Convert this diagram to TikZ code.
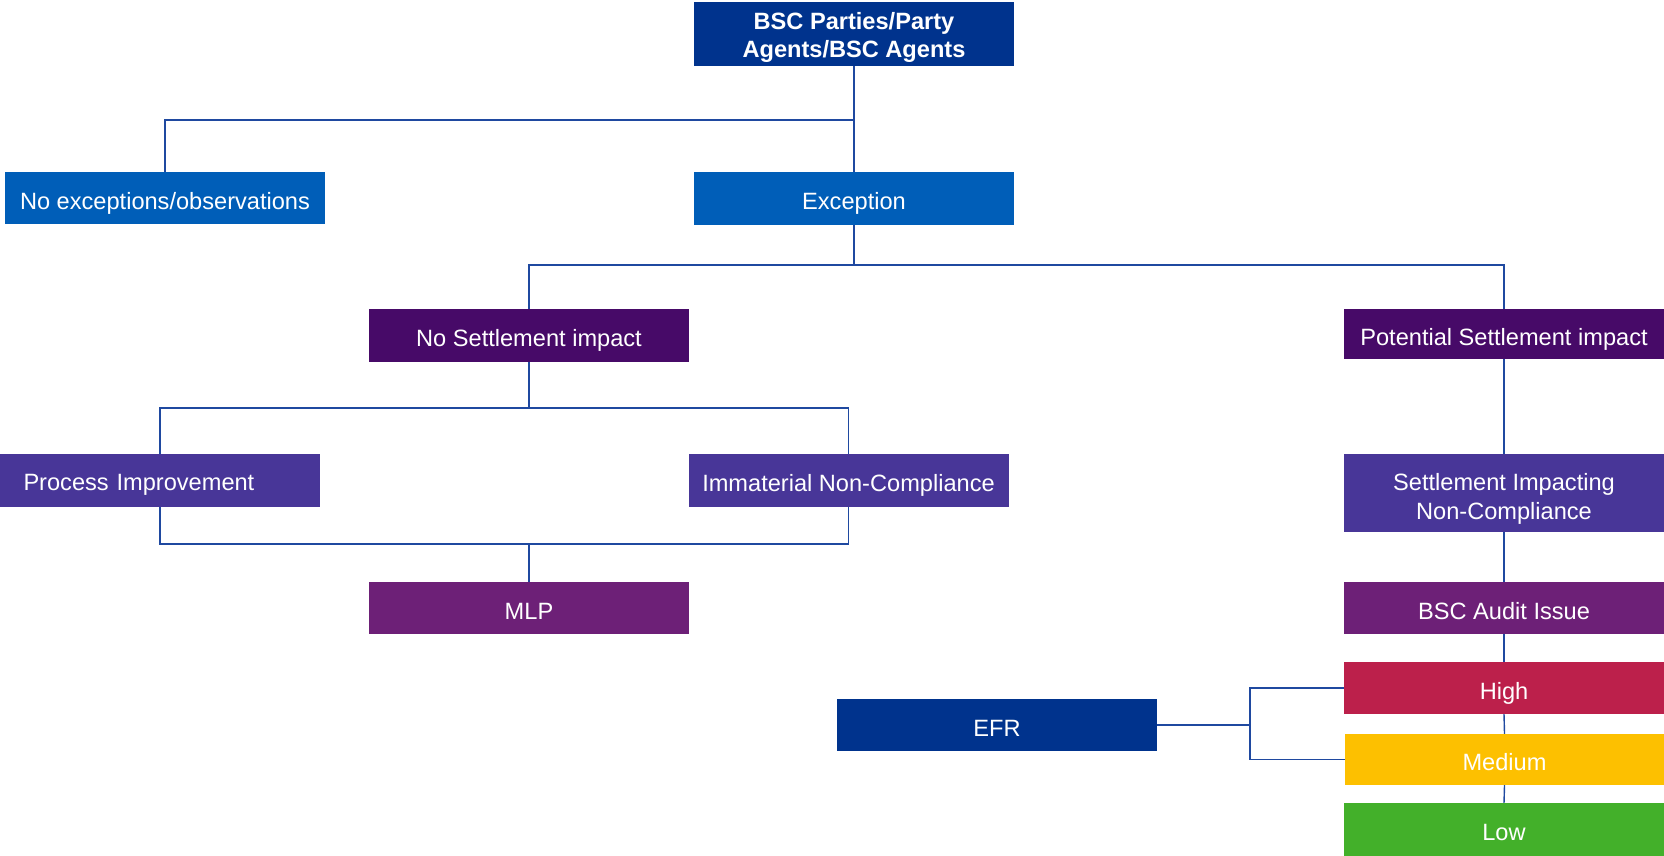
\documentclass[tikz,border=0pt]{standalone}
\usepackage{fontspec}
\setmainfont{Liberation Sans}
\definecolor{navy}{RGB}{0,51,141}
\definecolor{midblue}{RGB}{0,94,184}
\definecolor{darkpurple}{RGB}{71,10,104}
\definecolor{indigo}{RGB}{72,54,152}
\definecolor{plum}{RGB}{109,32,119}
\definecolor{highred}{RGB}{188,32,75}
\definecolor{medyellow}{RGB}{253,192,0}
\definecolor{lowgreen}{RGB}{67,176,42}
\definecolor{linkblue}{RGB}{31,73,160}
\begin{document}
\begin{tikzpicture}[x=1pt,y=-1pt,
  box/.style={rectangle, draw=none, text=white, minimum width=320pt, minimum height=52pt,
    inner sep=0pt, align=center, text height=22.4pt, text depth=0pt,
    font=\fontsize{23.6}{28.5}\selectfont},
  link/.style={draw=linkblue, line width=1.4pt}]
\useasboundingbox (0,0) rectangle (1664,856);
% boxes
\node[box, fill=navy, minimum height=64pt, text height=47.4pt, font=\bfseries\fontsize{23.6}{28.4}\selectfont] (top) at (854,34) {BSC Parties/Party\\Agents/BSC Agents};
\node[box, fill=midblue] (noexc) at (165,198) {No exceptions/observations};
\node[box, fill=midblue, minimum height=53pt] (exc) at (854,198.5) {Exception};
\node[box, fill=darkpurple, minimum height=53pt] (nosett) at (529,335.5) {No Settlement impact};
\node[box, fill=darkpurple, minimum height=50pt] (pot) at (1504,334) {Potential Settlement impact};
\node[box, fill=indigo, minimum height=53pt, text width=273pt, inner xsep=23.5pt, align=left, text height=19pt] (pi) at (160,480.5) {Process Improvement};
\node[box, fill=indigo, minimum height=53pt] (imm) at (848.5,480.5) {Immaterial Non-Compliance};
\node[box, fill=indigo, minimum height=78pt, text height=52.6pt, font=\fontsize{23.6}{28.6}\selectfont] (sinc) at (1504,493) {Settlement Impacting\\Non-Compliance};
\node[box, fill=plum] (mlp) at (529,608) {MLP};
\node[box, fill=plum] (bsc) at (1504,608) {BSC Audit Issue};
\node[box, fill=highred] (high) at (1504,688) {High};
\node[box, fill=medyellow, minimum width=319pt, minimum height=51pt] (med) at (1504.5,759.5) {Medium};
\node[box, fill=lowgreen, minimum height=53pt] (low) at (1504,829.5) {Low};
\node[box, fill=navy] (efr) at (997,725) {EFR};
% junctions
\coordinate (j1) at (854,120);
\coordinate (j2) at (854,265);
\coordinate (j3) at (529,408);
\coordinate (j4) at (529,544);
\coordinate (j5) at (1250,725);
% connectors
\draw[link] (top.south) -- (exc.north);
\draw[link] (j1) -| (noexc.north);
\draw[link] (exc.south) -- (j2);
\draw[link] (nosett.north) |- (j2) -| (pot.north);
\draw[link] (nosett.south) -- (j3);
\draw[link] (pi.north) |- (j3) -| (imm.north);
\draw[link] (pi.south) |- (j4) -| (imm.south);
\draw[link] (j4) -- (mlp.north);
\draw[link] (pot.south) -- (sinc.north);
\draw[link] (sinc.south) -- (bsc.north);
\draw[link] (bsc.south) -- (high.north);
\draw[link] (high.south) -- (med.north);
\draw[link] (med.south) -- (low.north);
\draw[link] (efr.east) -- (j5);
\draw[link] (high.west) -| (j5) |- (med.west);
\end{tikzpicture}
\end{document}
